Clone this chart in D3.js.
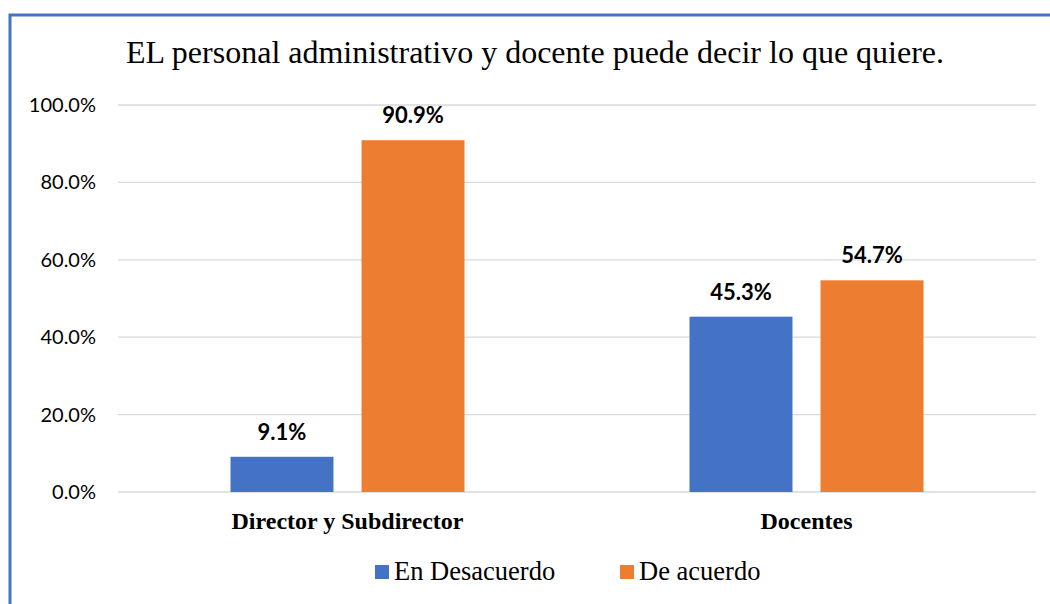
<!DOCTYPE html>
<html>
<head>
<meta charset="utf-8">
<script src="https://cdn.jsdelivr.net/npm/d3@7"></script>
<style>
  body { margin: 0; background: #fff; }
  svg { display: block; }
  .serif { font-family: "Liberation Serif", "Times New Roman", "DejaVu Serif", serif; }
  .sans { font-family: Lato, "Open Sans", sans-serif; }
</style>
</head>
<body>
<svg id="chart" width="1050" height="604"></svg>
<script>
/* EL personal administrativo... – barre raggruppate */

const TITLE = "EL personal administrativo y docente puede decir lo que quiere.";
const categories = ["Director y Subdirector", "Docentes"];
const series = ["En Desacuerdo", "De acuerdo"];
const desacuerdo = [9.1, 45.3];
const acuerdo = [90.9, 54.7];
const yTicks = [0, 20, 40, 60, 80, 100];

const COLORS = ["#4472C4", "#ED7D31"];
const margin = { top: 105, right: 14, bottom: 112, left: 118 };
const W = 1050, H = 604;

const svg = d3.select("#chart");

// cornice blu (solo lati visibili)
svg.append("path")
  .attr("d", "M10,604 V15 H1050")
  .attr("fill", "none")
  .attr("stroke", "#4472C4")
  .attr("stroke-width", 3);

svg.append("text")
  .attr("class", "serif")
  .attr("x", 535).attr("y", 63)
  .attr("text-anchor", "middle")
  .attr("font-size", 32)
  .attr("fill", "#000")
  .text(TITLE);

const innerW = W - margin.left - margin.right;
const innerH = H - margin.top - margin.bottom;
const g = svg.append("g").attr("transform", `translate(${margin.left},${margin.top})`);

const x0 = d3.scaleBand().domain(categories).range([0, innerW]);
const x1 = d3.scaleBand().domain(series).range([0, 234]).paddingInner(0.214);
const y = d3.scaleLinear().domain([0, 100]).range([innerH, 0]);

// griglia
g.append("g")
  .selectAll("line")
  .data(yTicks)
  .join("line")
  .attr("x1", 0).attr("x2", innerW)
  .attr("y1", d => y(d)).attr("y2", d => y(d))
  .attr("stroke", "#d9d9d9")
  .attr("stroke-width", 1.3);

const yAxis = d3.axisLeft(y)
  .tickValues(yTicks)
  .tickFormat(d => d.toFixed(1) + "%")
  .tickSize(0)
  .tickPadding(22);
g.append("g").call(yAxis)
  .call(s => s.select(".domain").remove())
  .selectAll("text")
  .attr("class", "sans")
  .attr("font-family", null)
  .attr("font-size", 20)
  .attr("fill", "#000");

const rows = categories.map((c, i) => ({ cat: c, vals: [desacuerdo[i], acuerdo[i]] }));

const grp = g.selectAll("g.grp")
  .data(rows)
  .join("g")
  .attr("class", "grp")
  .attr("transform", d => `translate(${x0(d.cat) + x0.bandwidth() / 2 - 117},0)`);

const bars = grp.selectAll("g.bar")
  .data(d => d.vals.map((v, j) => ({ s: series[j], v, j })))
  .join("g")
  .attr("class", "bar");

bars.append("rect")
  .attr("x", d => x1(d.s))
  .attr("width", x1.bandwidth())
  .attr("y", d => y(d.v))
  .attr("height", d => y(0) - y(d.v))
  .attr("fill", d => COLORS[d.j]);

bars.append("text")
  .attr("class", "sans")
  .attr("x", d => x1(d.s) + x1.bandwidth() / 2)
  .attr("y", d => y(d.v) - 17)
  .attr("text-anchor", "middle")
  .attr("font-weight", "bold")
  .attr("font-size", 22)
  .attr("fill", "#000")
  .text(d => d.v.toFixed(1) + "%");

// etichette categorie
g.selectAll("text.cat")
  .data(categories)
  .join("text")
  .attr("class", "cat serif")
  .attr("x", d => x0(d) + x0.bandwidth() / 2)
  .attr("y", innerH + 37)
  .attr("text-anchor", "middle")
  .attr("font-weight", "bold")
  .attr("font-size", 24)
  .attr("fill", "#000")
  .text(d => d);

// legenda
const legX = [375, 620];
const leg = svg.selectAll("g.leg")
  .data(series)
  .join("g")
  .attr("class", "leg")
  .attr("transform", (d, i) => `translate(${legX[i]},565)`);
leg.append("rect")
  .attr("width", 14).attr("height", 14)
  .attr("fill", (d, i) => COLORS[i]);
leg.append("text")
  .attr("class", "serif")
  .attr("x", 19).attr("y", 15)
  .attr("font-size", 26.5)
  .attr("fill", "#000")
  .text(d => d);
</script>
</body>
</html>
